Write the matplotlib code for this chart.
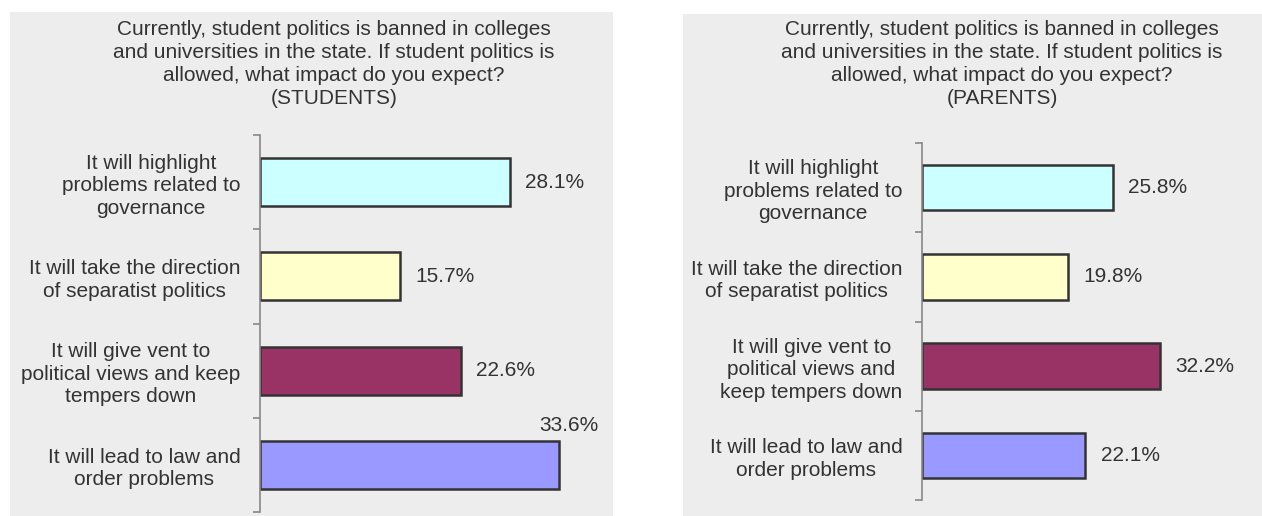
import matplotlib
matplotlib.use("Agg")
import matplotlib.pyplot as plt
from matplotlib.patches import Rectangle

plt.rcParams['font.family'] = ['Liberation Sans', 'DejaVu Sans']

# data
title_main = ("Currently, student politics is banned in colleges\n"
              "and universities in the state. If student politics is\n"
              "allowed, what impact do you expect?")
groups = ["STUDENTS", "PARENTS"]
labels_students = ["It will highlight\nproblems related to\ngovernance",
                   "It will take the direction\nof separatist politics",
                   "It will give vent to\npolitical views and keep\ntempers down",
                   "It will lead to law and\norder problems"]
labels_parents = ["It will highlight\nproblems related to\ngovernance",
                  "It will take the direction\nof separatist politics",
                  "It will give vent to\npolitical views and\nkeep tempers down",
                  "It will lead to law and\norder problems"]
values_students = [28.1, 15.7, 22.6, 33.6]
values_parents = [25.8, 19.8, 32.2, 22.1]
bar_colors = ["#CCFFFF", "#FFFFCC", "#993366", "#9999FF"]

W, H = 1262, 516
fig = plt.figure(figsize=(W / 100, H / 100), dpi=100)
txt = "#333333"
bg = "#EDEDED"
fs = 15

# grey panels (pixel coords, y from top)
for x0, x1, ytop in [(10, 613, 12), (683, 1262, 14)]:
    fig.patches.append(Rectangle((x0 / W, 0), (x1 - x0) / W, (H - ytop) / H,
                                 transform=fig.transFigure, facecolor=bg,
                                 edgecolor="none", zorder=0))

# axes boxes: left px, right px, top px, bottom px, xmax, title center x
panels = [
    (260, 598, 135, 512, 38.0, 334, labels_students, values_students, groups[0]),
    (922, 1245, 143, 500, 43.7, 1002, labels_parents, values_parents, groups[1]),
]

for x0, x1, y0, y1, xmax, tx, labels, vals, grp in panels:
    ax = fig.add_axes([x0 / W, (H - y1) / H, (x1 - x0) / W, (y1 - y0) / H])
    ax.set_zorder(2)
    ax.patch.set_visible(False)
    n = len(vals)
    pos = list(range(n))
    ax.barh(pos, vals, height=0.51, color=bar_colors,
            edgecolor="#333333", linewidth=1.8)
    ax.set_xlim(0, xmax)
    ax.set_ylim(n - 0.5, -0.5)
    ax.set_yticks(pos)
    ax.set_yticklabels(labels, fontsize=fs, color=txt,
                       multialignment="center", linespacing=1.22)
    ax.set_yticks([p - 0.5 for p in range(n + 1)], minor=True)
    ax.tick_params(axis="y", which="major", length=0, pad=14)
    ax.tick_params(axis="y", which="minor", length=5, color="#888888",
                   width=1.2, direction="out")
    ax.set_xticks([])
    for s in ["top", "right", "bottom"]:
        ax.spines[s].set_visible(False)
    ax.spines["left"].set_color("#888888")
    ax.spines["left"].set_linewidth(1.2)

    for i, v in enumerate(vals):
        if v > xmax * 0.85:
            # no room on the right, put it above
            ax.annotate(f"{v}%", (v, i - 0.255), xytext=(7, 4),
                        textcoords="offset points", ha="center", va="bottom",
                        fontsize=fs, color=txt)
        else:
            ax.annotate(f"{v}%", (v, i), xytext=(11, 0),
                        textcoords="offset points", ha="left", va="center",
                        fontsize=fs, color=txt)

    fig.text(tx / W, 1 - 20 / H, title_main + f"\n({grp})", ha="center",
             va="top", fontsize=fs, color=txt, linespacing=1.27)

fig.savefig("out.png", dpi=100)
